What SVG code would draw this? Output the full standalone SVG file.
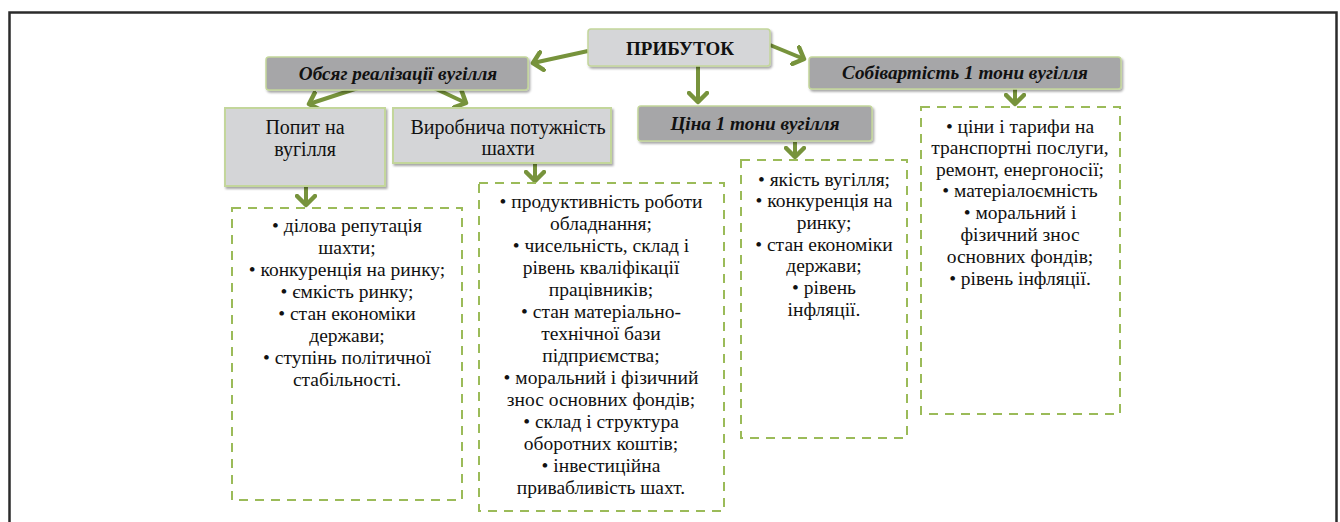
<svg xmlns="http://www.w3.org/2000/svg" width="1340" height="522" viewBox="0 0 1340 522">
<defs>
<marker id="ah" markerWidth="22" markerHeight="22" refX="11" refY="11" orient="auto" markerUnits="userSpaceOnUse">
<path d="M2,2 L11,11 L2,20" fill="none" stroke="#77933c" stroke-width="4.5" stroke-linecap="round" stroke-linejoin="round"/>
</marker>
<filter id="sh" x="-10%" y="-10%" width="130%" height="140%">
<feDropShadow dx="1.5" dy="2" stdDeviation="1.2" flood-color="#000" flood-opacity="0.35"/>
</filter>
</defs>
<style>
.frame{fill:none;stroke:#2b2b2b;stroke-width:2.5}
.light{fill:#d5d6d8;stroke:#c3d69b;stroke-width:1.5}
.dark{fill:#a6a6a8;stroke:#c3d69b;stroke-width:1.5}
.sq{fill:#d4d5d7;stroke:#c3d69b;stroke-width:2}
.dash{fill:#fff;stroke:#9bbb59;stroke-width:2;stroke-dasharray:9,7}
.conn{fill:none;stroke:#77933c;stroke-width:4;marker-end:url(#ah)}
.t{fill:#111;text-anchor:middle}
.h{font-size:19px;font-weight:bold}
.hi{font-size:19.2px;font-weight:bold;font-style:italic}
.n{font-size:20px}
.b{font-size:19.5px}
</style>
<rect class="frame" x="9.5" y="12.5" width="1327" height="520"/>

<g id="connectors">
<line class="conn" x1="588" y1="51" x2="533" y2="63"/>
<line class="conn" x1="770" y1="45" x2="804" y2="59"/>
<line class="conn" x1="698" y1="66" x2="698" y2="102"/>
<line class="conn" x1="358" y1="88" x2="309" y2="104"/>
<line class="conn" x1="434" y1="88" x2="466" y2="103"/>
<line class="conn" x1="306" y1="186" x2="306" y2="205"/>
<line class="conn" x1="535" y1="163" x2="535" y2="181"/>
<line class="conn" x1="795" y1="142" x2="795" y2="157"/>
<line class="conn" x1="1015" y1="89" x2="1015" y2="104"/>
</g>

<g class="t" font-family="'Liberation Serif', 'Times New Roman', 'DejaVu Serif', serif">
<g id="prybutok">
<rect class="light" x="588" y="29" width="182" height="37" rx="3" filter="url(#sh)"/>
<text class="t h" x="680" y="55">ПРИБУТОК</text>
</g>
<g id="obsyag">
<rect class="dark" x="266" y="57" width="262" height="33" rx="3" filter="url(#sh)"/>
<text class="t hi" x="398" y="80">Обсяг реалізації вугілля</text>
</g>
<g id="sobivartist">
<rect class="dark" x="809" y="57" width="312" height="32" rx="3" filter="url(#sh)"/>
<text class="t hi" x="965" y="79">Собівартість 1 тони вугілля</text>
</g>
<g id="tsina">
<rect class="dark" x="638" y="106" width="234" height="35" rx="3" filter="url(#sh)"/>
<text class="t hi" x="755" y="130">Ціна 1 тони вугілля</text>
</g>
<g id="popyt">
<rect class="sq" x="225" y="108" width="160" height="78" filter="url(#sh)"/>
<text class="t n" x="305" y="134">Попит на</text>
<text class="t n" x="305" y="156">вугілля</text>
</g>
<g id="vyrobnycha">
<rect class="sq" x="393" y="108" width="218" height="55" filter="url(#sh)"/>
<text class="t n" x="508" y="134">Виробнича потужність</text>
<text class="t n" x="508" y="155">шахти</text>
</g>

<g id="list1">
<rect class="dash" x="232" y="208" width="230" height="292"/>
<text class="t b" x="347" y="232">• ділова репутація</text>
<text class="t b" x="347" y="254">шахти;</text>
<text class="t b" x="347" y="276">• конкуренція на ринку;</text>
<text class="t b" x="347" y="298">• ємкість ринку;</text>
<text class="t b" x="347" y="320">• стан економіки</text>
<text class="t b" x="347" y="342">держави;</text>
<text class="t b" x="347" y="364">• ступінь політичної</text>
<text class="t b" x="347" y="386">стабільності.</text>
</g>
<g id="list2">
<rect class="dash" x="479" y="183" width="245" height="328"/>
<text class="t b" x="601" y="208">• продуктивність роботи</text>
<text class="t b" x="601" y="230">обладнання;</text>
<text class="t b" x="601" y="252">• чисельність, склад і</text>
<text class="t b" x="601" y="274">рівень кваліфікації</text>
<text class="t b" x="601" y="296">працівників;</text>
<text class="t b" x="601" y="318">• стан матеріально-</text>
<text class="t b" x="601" y="340">технічної бази</text>
<text class="t b" x="601" y="362">підприємства;</text>
<text class="t b" x="601" y="384">• моральний і фізичний</text>
<text class="t b" x="601" y="406">знос основних фондів;</text>
<text class="t b" x="601" y="428">• склад і структура</text>
<text class="t b" x="601" y="450">оборотних коштів;</text>
<text class="t b" x="601" y="472">• інвестиційна</text>
<text class="t b" x="601" y="494">привабливість шахт.</text>
</g>
<g id="list3">
<rect class="dash" x="741" y="160" width="166" height="278"/>
<text class="t b" x="824" y="186">• якість вугілля;</text>
<text class="t b" x="824" y="207">• конкуренція на</text>
<text class="t b" x="824" y="229">ринку;</text>
<text class="t b" x="824" y="251">• стан економіки</text>
<text class="t b" x="824" y="272">держави;</text>
<text class="t b" x="824" y="294">• рівень</text>
<text class="t b" x="824" y="316">інфляції.</text>
</g>
<g id="list4">
<rect class="dash" x="921" y="107" width="199" height="307"/>
<text class="t b" x="1020" y="133">• ціни і тарифи на</text>
<text class="t b" x="1020" y="154">транспортні послуги,</text>
<text class="t b" x="1020" y="176">ремонт, енергоносії;</text>
<text class="t b" x="1020" y="197">• матеріалоємність</text>
<text class="t b" x="1020" y="219">• моральний і</text>
<text class="t b" x="1020" y="241">фізичний знос</text>
<text class="t b" x="1020" y="263">основних фондів;</text>
<text class="t b" x="1020" y="285">• рівень інфляції.</text>
</g>
</g>
</svg>
